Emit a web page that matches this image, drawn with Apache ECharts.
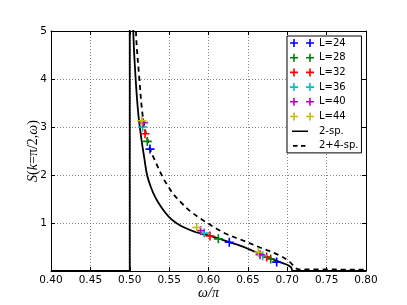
<!DOCTYPE html>
<html>
<head>
<meta charset="utf-8">
<script src="https://cdn.jsdelivr.net/npm/echarts@6/dist/echarts.min.js"></script>
<style>
html,body{margin:0;padding:0;background:#fff;}
#chart{width:407px;height:305px;}
</style>
</head>
<body>
<div id="chart"></div>
<script>
// ---- data ----
const xTickLabels = ['0.40','0.45','0.50','0.55','0.60','0.65','0.70','0.75','0.80'];
const yTickLabels = ['','1','2','3','4','5'];

const seriesNames = ['L=24','L=28','L=32','L=36','L=40','L=44'];
const seriesColors = ['#0000ff','#008000','#ff0000','#00bfbf','#bf00bf','#bfbf00'];
const L24_w = [0.5257, 0.6264, 0.6866];
const L24_s = [2.54, 0.60, 0.185];
const L28_w = [0.5223, 0.6125, 0.6790];
const L28_s = [2.70, 0.67, 0.25];
const L32_w = [0.5194, 0.6019, 0.6739];
const L32_s = [2.86, 0.73, 0.29];
const L36_w = [0.5164, 0.5945, 0.6688];
const L36_s = [3.00, 0.79, 0.32];
const L40_w = [0.5172, 0.5900, 0.6654];
const L40_s = [3.09, 0.84, 0.34];
const L44_w = [0.5152, 0.5850, 0.6633];
const L44_s = [3.13, 0.905, 0.39];

// 2-spinon: zero below the lower edge, vertical divergence at 0.5, then decaying curve
const twoSpEdge_w = [0.40, 0.50, 0.50];
const twoSpEdge_s = [0, 0, 60];
const twoSp_w = [0.5025, 0.5045, 0.5075, 0.511, 0.5152, 0.5185, 0.522, 0.527, 0.532, 0.538, 0.545, 0.552, 0.560, 0.570, 0.582, 0.594, 0.605, 0.6125, 0.6264, 0.640, 0.652, 0.665, 0.677, 0.6866, 0.695, 0.701, 0.705, 0.7071, 0.80];
const twoSp_s = [8.0, 5.0, 4.0, 3.25, 2.7, 2.35, 2.0, 1.74, 1.55, 1.38, 1.22, 1.09, 0.99, 0.90, 0.82, 0.765, 0.715, 0.68, 0.60, 0.53, 0.45, 0.36, 0.28, 0.21, 0.16, 0.12, 0.075, 0, 0];

const fourSp_w = [0.5045, 0.5079, 0.5121, 0.5172, 0.5257, 0.532, 0.5426, 0.549, 0.5553, 0.568, 0.578, 0.5892, 0.5977, 0.6104, 0.623, 0.640, 0.6654, 0.6908, 0.7035, 0.710, 0.715, 0.80];
const fourSp_s = [8, 5.0, 4.03, 3.15, 2.55, 2.3, 1.93, 1.76, 1.6, 1.38, 1.23, 1.1, 1.01, 0.88, 0.77, 0.66, 0.49, 0.32, 0.185, 0.07, 0.035, 0.03];

// ---- build ----
const zip = (a, b) => a.map((v, i) => [v, b[i]]);
const markerW = [L24_w, L28_w, L32_w, L36_w, L40_w, L44_w];
const markerS = [L24_s, L28_s, L32_s, L36_s, L40_s, L44_s];

const plusPath = 'path://M4.1,0h1.8v10h-1.8zM0,4.1h10v1.8h-10z';
const twoPlusIcon = 'path://M3.2,0h1.6v8h-1.6zM0,3.2h8v1.6h-8zM19.2,0h1.6v8h-1.6zM16,3.2h8v1.6h-8z';
const corners = 'M0,0h0.01v0.01h-0.01zM23.99,7.99h0.01v0.01h-0.01z';
const solidIcon = 'path://' + corners + 'M2,3.2h16v1.6h-16z';
const dashIcon = 'path://' + corners + 'M3,3.2h4.5v1.6h-4.5zM11,3.2h4.5v1.6h-4.5z';

const series = [];
series.push({
  name: '2-sp.', type: 'line', data: zip(twoSpEdge_w, twoSpEdge_s),
  symbol: 'none', color: '#000', clip: true, z: 2,
  lineStyle: {color: '#000', width: 1.8}
});
series.push({
  name: '2-sp.', type: 'line', data: zip(twoSp_w, twoSp_s),
  symbol: 'none', color: '#000', clip: true, z: 2, smooth: 0.35,
  lineStyle: {color: '#000', width: 1.8}
});
series.push({
  name: '2+4-sp.', type: 'line', data: zip(fourSp_w, fourSp_s),
  symbol: 'none', color: '#000', clip: true, z: 2, smooth: 0.35,
  lineStyle: {color: '#000', width: 1.8, type: [5, 4]}
});
for (let i = 0; i < seriesNames.length; i++) {
  series.push({
    name: seriesNames[i], type: 'scatter', data: zip(markerW[i], markerS[i]),
    symbol: plusPath, symbolSize: 9, color: seriesColors[i], z: 5,
    itemStyle: {color: seriesColors[i], opacity: 1}
  });
}

const legendData = seriesNames.map(n => ({name: n, icon: twoPlusIcon}))
  .concat([{name: '2-sp.', icon: solidIcon}, {name: '2+4-sp.', icon: dashIcon}]);

const gridLine = {show: true, lineStyle: {color: '#888', type: [1, 2], width: 1}};
const tickStyle = {show: true, inside: true, length: 4, lineStyle: {color: '#000', width: 1}};
const lineStyleAxis = {show: true, onZero: false, lineStyle: {color: '#000', width: 1}};
const lbl = {fontFamily: 'DejaVu Sans', fontSize: 10.5, color: '#000'};

const chart = echarts.init(document.getElementById('chart'), null, {renderer: 'canvas'});
chart.setOption({
  animation: false,
  backgroundColor: '#fff',
  grid: {left: 51, top: 31, right: 41, bottom: 31, containLabel: false},
  xAxis: [{
    type: 'value', min: 0.4, max: 0.8, interval: 0.05, position: 'bottom',
    axisLine: lineStyleAxis, axisTick: tickStyle, splitLine: gridLine,
    axisLabel: Object.assign({margin: 4, formatter: v => xTickLabels[Math.round((v - 0.4) / 0.05)]}, lbl),
    name: 'ω/π', nameLocation: 'middle', nameGap: 15, nameMoveOverlap: false,
    nameTextStyle: {fontFamily: 'Liberation Serif', fontStyle: 'italic', fontSize: 14, color: '#000'}
  }, {
    type: 'value', min: 0.4, max: 0.8, interval: 0.05, position: 'top',
    axisLine: lineStyleAxis, axisTick: tickStyle, splitLine: {show: false}, axisLabel: {show: false}
  }],
  yAxis: [{
    type: 'value', min: 0, max: 5, interval: 1, position: 'left',
    axisLine: lineStyleAxis, axisTick: tickStyle, splitLine: gridLine,
    axisLabel: Object.assign({margin: 4, formatter: v => yTickLabels[Math.round(v)]}, lbl),
    name: '{i|S}{r|(}{i|k}{r|=π/2,}{i|ω}{r|)}', nameLocation: 'middle', nameGap: 11, nameRotate: 90,
    nameMoveOverlap: false,
    nameTextStyle: {
      color: '#000',
      rich: {
        i: {fontFamily: 'Liberation Serif', fontStyle: 'italic', fontSize: 14, color: '#000'},
        r: {fontFamily: 'Liberation Serif', fontSize: 14, color: '#000'}
      }
    }
  }, {
    type: 'value', min: 0, max: 5, interval: 1, position: 'right',
    axisLine: lineStyleAxis, axisTick: tickStyle, splitLine: {show: false}, axisLabel: {show: false}
  }],
  legend: {
    data: legendData, orient: 'vertical', left: 287, top: 36,
    padding: [2, 3, 2, 3], itemWidth: 24, itemHeight: 8, itemGap: 4.7,
    backgroundColor: '#fff', borderColor: '#000', borderWidth: 1, borderRadius: 0,
    selectedMode: false,
    itemStyle: {borderWidth: 0},
    textStyle: {fontFamily: 'DejaVu Sans', fontSize: 10, lineHeight: 10, color: '#000'}
  },
  series: series
});
</script>
</body>
</html>
